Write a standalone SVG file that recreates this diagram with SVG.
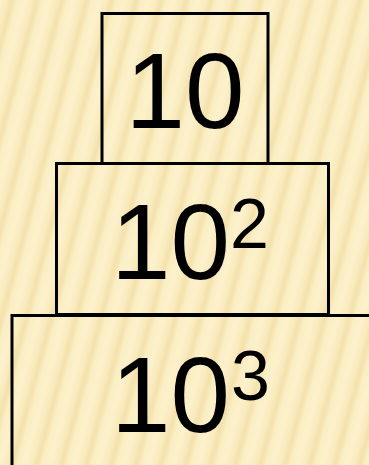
<svg xmlns="http://www.w3.org/2000/svg" width="369" height="465" viewBox="0 0 369 465">
<defs>
<linearGradient id="sg" x1="0" y1="0" x2="1" y2="0">
<stop offset="0" stop-color="#FCF1CB"/>
<stop offset="0.3" stop-color="#F9EBBE"/>
<stop offset="0.5" stop-color="#F4E1AB"/>
<stop offset="0.7" stop-color="#FAEEC4"/>
<stop offset="1" stop-color="#FCF1CB"/>
</linearGradient>
<pattern id="stripes" width="24" height="60" patternUnits="userSpaceOnUse" patternTransform="rotate(15)">
<rect width="24" height="60" fill="url(#sg)"/>
</pattern>
<style>
.box{fill:none;stroke:#000;stroke-width:3}
.t{font-family:"Liberation Sans",Arial,sans-serif;fill:#000}
.main{font-size:107px}
.sup{font-size:70px}
</style>
</defs>
<rect width="369" height="465" fill="#FBEFC8"/>
<rect width="369" height="465" fill="url(#stripes)"/>
<g id="node-10">
<rect class="box" x="102" y="13.5" width="166" height="150"/>
<text class="t main" x="185" y="128" text-anchor="middle">10</text>
</g>
<g id="node-10-2">
<rect class="box" x="56.5" y="163.5" width="272" height="151"/>
<text class="t main" x="111" y="279">10</text>
<text class="t sup" x="230" y="248">2</text>
</g>
<g id="node-10-3">
<rect class="box" x="12" y="315.5" width="370" height="160"/>
<text class="t main" x="111" y="432">10</text>
<text class="t sup" x="231" y="400">3</text>
</g>
<g id="connectors"/>
</svg>
